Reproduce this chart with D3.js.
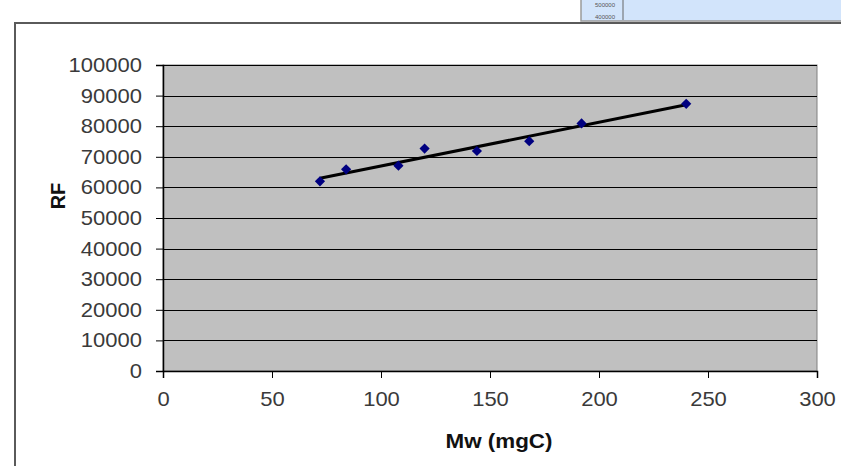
<!doctype html>
<html>
<head>
<script src="https://d3js.org/d3.v7.min.js"></script>
<style>
  body { margin: 0; background: #fff; }
  svg { display: block; }
</style>
</head>
<body>
<svg width="841" height="466"></svg>
<script>
// data
var mw = [72, 84, 108, 120, 144, 168, 192, 240];
var rf = [62000, 65900, 67100, 72700, 71900, 75100, 80900, 87300];
var xTicks = [0, 50, 100, 150, 200, 250, 300];
var yTicks = [0, 10000, 20000, 30000, 40000, 50000, 60000, 70000, 80000, 90000, 100000];
// corner of the next chart that peeks in at the top
var peekTicks = ["500000", "400000"];

var svg = d3.select("svg");

var plot = { left: 163, top: 65, right: 817, bottom: 371 };

var x = d3.scaleLinear().domain([0, 300]).range([plot.left, plot.right]);
var y = d3.scaleLinear().domain([0, 100000]).range([plot.bottom, plot.top]);

// the other chart's corner, top right
svg.append("rect")
  .attr("x", 581).attr("y", -2).attr("width", 262).attr("height", 23)
  .style("fill", "#d2e4fb").style("stroke", "#9a9a9a").style("stroke-width", 1.5);
svg.selectAll(".peek")
  .data(peekTicks)
  .enter().append("text")
  .attr("x", 615)
  .attr("y", function (d, i) { return 7 + i * 12; })
  .attr("text-anchor", "end")
  .style("font-family", "Liberation Sans, Arial, sans-serif")
  .style("font-size", "6px")
  .style("fill", "#555")
  .text(function (d) { return d; });
svg.append("line")
  .attr("x1", 623).attr("x2", 623).attr("y1", 0).attr("y2", 20)
  .style("stroke", "#666");

// chart border
svg.append("path")
  .attr("d", "M15,466 V23 H841")
  .style("fill", "none")
  .style("stroke", "#5a5a5a")
  .style("stroke-width", 2);

// plot area
svg.append("rect")
  .attr("x", plot.left).attr("y", plot.top)
  .attr("width", plot.right - plot.left).attr("height", plot.bottom - plot.top)
  .style("fill", "#c0c0c0")
  .style("stroke", "#808080")
  .style("stroke-width", 1);

// gridlines
svg.append("g")
  .selectAll("line")
  .data(yTicks.slice(1))
  .enter().append("line")
  .attr("x1", plot.left).attr("x2", plot.right)
  .attr("y1", function (d) { return Math.round(y(d)) + 0.5; })
  .attr("y2", function (d) { return Math.round(y(d)) + 0.5; })
  .style("stroke", "#000")
  .style("stroke-width", 1);

var font = "Liberation Sans, Arial, sans-serif";

// axes
var xAxis = svg.append("g")
  .attr("transform", "translate(0," + plot.bottom + ")")
  .call(d3.axisBottom(x).tickValues(xTicks).tickSizeOuter(0).tickSize(7).tickPadding(14));
var yAxis = svg.append("g")
  .attr("transform", "translate(" + plot.left + ",0)")
  .call(d3.axisLeft(y).tickValues(yTicks).tickSizeOuter(0).tickSize(7).tickFormat(d3.format("d")).tickPadding(14));

[xAxis, yAxis].forEach(function (a) {
  a.select(".domain").style("stroke", "#000").style("stroke-width", 1.5);
  a.selectAll(".tick line").style("stroke", "#000");
  a.selectAll(".tick text")
    .style("font-family", font)
    .style("font-size", "20px")
    .style("fill", "#3a3a3a");
});
xAxis.selectAll(".tick text").attr("transform", "scale(1.1,1)");
yAxis.selectAll(".tick text").attr("transform", "scale(1.1,1)").attr("x", -14 / 1.1 - 7 / 1.1);

// axis titles
svg.append("text")
  .attr("transform", "translate(499,448) scale(1.12,1)")
  .attr("text-anchor", "middle")
  .style("font-family", font)
  .style("font-size", "20px")
  .style("font-weight", "bold")
  .style("fill", "#111")
  .text("Mw (mgC)");

svg.append("text")
  .attr("transform", "translate(65,196) rotate(-90)")
  .attr("text-anchor", "middle")
  .style("font-family", font)
  .style("font-size", "20px")
  .style("font-weight", "bold")
  .style("fill", "#111")
  .text("RF");

// linear trendline (least squares over the points)
var mx = d3.mean(mw), my = d3.mean(rf);
var sxy = d3.sum(mw, function (v, i) { return (v - mx) * (rf[i] - my); });
var sxx = d3.sum(mw, function (v) { return (v - mx) * (v - mx); });
var slope = sxy / sxx, icpt = my - slope * mx;
var ends = [d3.min(mw), d3.max(mw)];

var line = d3.line()
  .x(function (d) { return x(d); })
  .y(function (d) { return y(icpt + slope * d); });

svg.append("path")
  .datum(ends)
  .attr("d", line)
  .style("fill", "none")
  .style("stroke", "#000")
  .style("stroke-width", 3);

// diamond markers
var diamond = d3.symbol().type(d3.symbolSquare).size(52);
svg.append("g")
  .selectAll("path")
  .data(mw)
  .enter().append("path")
  .attr("d", diamond)
  .attr("transform", function (d, i) {
    return "translate(" + x(d) + "," + y(rf[i]) + ") rotate(45)";
  })
  .style("fill", "#000080");
</script>
</body>
</html>
